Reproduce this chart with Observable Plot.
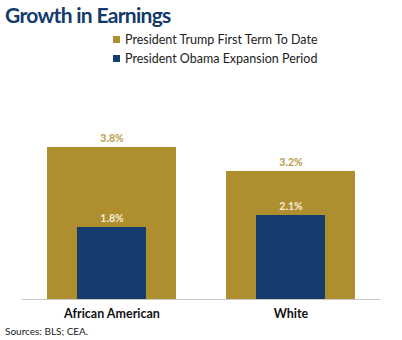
<!DOCTYPE html>
<html>
<head>
<meta charset="utf-8">
<script src="https://cdn.jsdelivr.net/npm/d3@7"></script>
<script src="https://cdn.jsdelivr.net/npm/@observablehq/plot@0.6"></script>
<style>
  html, body { margin: 0; padding: 0; background: #fff; }
  body { width: 402px; height: 340px; overflow: hidden; position: relative; font-family: Lato, "Open Sans", sans-serif; }
  #title { position: absolute; left: 5px; top: 2px; font-size: 21px; font-weight: 700; color: #123a6b; letter-spacing: -0.7px; }
  #legend { position: absolute; left: 113px; top: 30px; font-size: 12.5px; color: #222; }
  .item { display: flex; align-items: center; height: 19px; }
  .sw { width: 7px; height: 7px; margin-right: 5px; }
  #chart { position: absolute; left: 0; top: 80px; }
  #caption { position: absolute; left: 5px; top: 325px; font-size: 10px; color: #222; }
</style>
</head>
<body>
<div id="title">Growth in Earnings</div>
<div id="legend"></div>
<div id="chart"></div>
<div id="caption">Sources: BLS; CEA.</div>
<script>
const categories = ["African American", "White"];
const seriesNames = ["President Trump First Term To Date", "President Obama Expansion Period"];
const trumpValues = [3.8, 3.2];
const obamaValues = [1.8, 2.1];
const colors = ["#af8e30", "#143c6c"];

const trump = categories.map((c, i) => ({group: c, value: trumpValues[i]}));
const obama = categories.map((c, i) => ({group: c, value: obamaValues[i]}));
const fmt = v => v.toFixed(1) + "%";

const legend = document.getElementById("legend");
seriesNames.forEach((s, i) => {
  const d = document.createElement("div");
  d.className = "item";
  d.innerHTML = `<span class="sw" style="background:${colors[i]}"></span><span>${s}</span>`;
  legend.appendChild(d);
});

const chart = Plot.plot({
  width: 402,
  height: 248,
  marginLeft: 22,
  marginRight: 22,
  marginTop: 59,
  marginBottom: 29,
  style: {fontFamily: "Lato, 'Open Sans', sans-serif", background: "transparent", overflow: "visible"},
  x: {domain: categories, padding: 0, label: null, axis: null},
  y: {domain: [0, 4], axis: null},
  marks: [
    Plot.barY(trump, {x: "group", y: "value", fill: colors[0], insetLeft: 25, insetRight: 25}),
    Plot.barY(obama, {x: "group", y: "value", fill: colors[1], insetLeft: 55, insetRight: 55}),
    Plot.text(trump, {x: "group", y: "value", text: d => fmt(d.value), dy: -9, fill: "#b89b4a", fontSize: 10.5, fontWeight: 700}),
    Plot.text(obama, {x: "group", y: "value", text: d => fmt(d.value), dy: -9, fill: "#f4edd6", fontSize: 10.5, fontWeight: 700}),
    Plot.ruleY([0], {stroke: "#c8c8c8", strokeWidth: 1}),
    Plot.axisX({domain: categories, tickSize: 0, tickPadding: 0, dy: 10, fontSize: 12.5, fontWeight: 700, fill: "#111", label: null})
  ]
});
document.getElementById("chart").appendChild(chart);
</script>
</body>
</html>
